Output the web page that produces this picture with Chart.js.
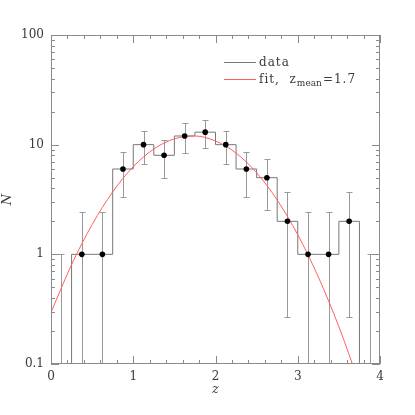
<!DOCTYPE html>
<html>
<head>
<meta charset="utf-8">
<script src="https://cdn.jsdelivr.net/npm/chart.js@4.4.0/dist/chart.umd.min.js"></script>
<style>
  body { margin: 0; background: #fff; }
  #wrap { width: 415px; height: 415px; }
</style>
</head>
<body>
<div id="wrap"><canvas id="nzChart" width="415" height="415"></canvas></div>
<script>
// redshift histogram, bins of 0.25
const binEdges = [0, 0.25, 0.5, 0.75, 1.0, 1.25, 1.5, 1.75, 2.0, 2.25, 2.5, 2.75, 3.0, 3.25, 3.5, 3.75, 4.0];
const binCenters = [0.125, 0.375, 0.625, 0.875, 1.125, 1.375, 1.625, 1.875, 2.125, 2.375, 2.625, 2.875, 3.125, 3.375, 3.625, 3.875];
const counts = [0, 1, 1, 6, 10, 8, 12, 13, 10, 6, 5, 2, 1, 1, 2, 0];
// error bar ends (0 = runs below the axis)
const errHi = [1, 2.41, 2.41, 8.65, 13.3, 11.0, 15.6, 16.7, 13.3, 8.65, 7.45, 3.73, 2.41, 2.41, 3.73, 1];
const errLo = [0, 0, 0, 3.35, 6.7, 5.0, 8.4, 9.3, 6.7, 3.35, 2.55, 0.27, 0, 0, 0.27, 0];

// fit curve, z_mean = 1.7
const fitZ = [0, 0.25, 0.5, 0.75, 1.0, 1.25, 1.5, 1.75, 2.0, 2.25, 2.5, 2.75, 3.0, 3.25, 3.5, 3.75];
const fitN = [0.296, 0.805, 1.87, 3.71, 6.30, 9.13, 11.3, 12.0, 10.8, 8.38, 5.54, 3.13, 1.51, 0.622, 0.219, 0.066];

// axis ticks
const xTicks = [0, 1, 2, 3, 4];
const xTickLabels = ['0', '1', '2', '3', '4'];
const yTicks = [0.1, 1, 10, 100];
const yTickLabels = ['0.1', '1', '10', '100'];

const AXIS_GREY = '#8a8a8a';
const TEXT_COL = '#3a3a3a';
const FONT = '"DejaVu Serif", serif';

// histogram outline: value of bin i held from edge i to edge i+1
const histData = binEdges.map((e, i) => {
  const c = counts[Math.min(i, counts.length - 1)];
  return { x: e, y: c > 0 ? c : 0.01 };
});
const pointData = binCenters.map((z, i) => ({ x: z, y: counts[i] > 0 ? counts[i] : null }));
const fitData = fitZ.map((z, i) => ({ x: z, y: fitN[i] }));

const errorBars = {
  id: 'errorBars',
  beforeDatasetsDraw(chart) {
    const { ctx, chartArea, scales: { x, y } } = chart;
    ctx.save();
    ctx.beginPath();
    ctx.rect(chartArea.left, chartArea.top, chartArea.width, chartArea.height);
    ctx.clip();
    ctx.strokeStyle = '#999';
    ctx.lineWidth = 1;
    binCenters.forEach((z, i) => {
      const px = Math.round(x.getPixelForValue(z)) + 0.5;
      const top = Math.round(y.getPixelForValue(errHi[i])) + 0.5;
      const bot = errLo[i] > 0 ? Math.round(y.getPixelForValue(errLo[i])) + 0.5 : chartArea.bottom;
      ctx.beginPath();
      ctx.moveTo(px, top); ctx.lineTo(px, bot);
      ctx.moveTo(px - 3, top); ctx.lineTo(px + 3, top);
      if (errLo[i] > 0) { ctx.moveTo(px - 3, bot); ctx.lineTo(px + 3, bot); }
      ctx.stroke();
    });
    ctx.restore();
  }
};

// frame, inward ticks, labels, legend
const frame = {
  id: 'frame',
  afterDraw(chart) {
    const { ctx, chartArea: a, scales: { x, y } } = chart;
    ctx.save();
    ctx.strokeStyle = AXIS_GREY;
    ctx.lineWidth = 1;
    ctx.strokeRect(a.left + 0.5, a.top + 0.5, a.width - 1, a.height - 1);

    ctx.beginPath();
    // x ticks every 0.2, major every 1
    for (let k = 0; k <= 20; k++) {
      const px = Math.round(x.getPixelForValue(k * 0.2)) + 0.5;
      const len = k % 5 === 0 ? 8 : 4;
      ctx.moveTo(px, a.bottom); ctx.lineTo(px, a.bottom - len);
      ctx.moveTo(px, a.top); ctx.lineTo(px, a.top + len);
    }
    // y log ticks
    for (let d = 0; d < 3; d++) {
      for (let m = 1; m <= 9; m++) {
        const v = m * Math.pow(10, d - 1);
        const py = Math.round(y.getPixelForValue(v)) + 0.5;
        const len = m === 1 ? 8 : 4;
        ctx.moveTo(a.left, py); ctx.lineTo(a.left + len, py);
        ctx.moveTo(a.right, py); ctx.lineTo(a.right - len, py);
      }
    }
    ctx.stroke();

    ctx.fillStyle = TEXT_COL;
    ctx.font = '12px ' + FONT;
    ctx.textAlign = 'center';
    ctx.textBaseline = 'middle';
    xTicks.forEach((v, i) => ctx.fillText(xTickLabels[i], x.getPixelForValue(v), a.bottom + 13));
    ctx.textAlign = 'right';
    yTicks.forEach((v, i) => ctx.fillText(yTickLabels[i], a.left - 7, y.getPixelForValue(v)));

    // axis titles
    ctx.font = 'italic 13px ' + FONT;
    ctx.textAlign = 'center';
    ctx.fillText('z', (a.left + a.right) / 2, a.bottom + 26);
    ctx.save();
    ctx.translate(8, (a.top + a.bottom) / 2);
    ctx.rotate(-Math.PI / 2);
    ctx.fillText('N', 0, 0);
    ctx.restore();

    // legend
    ctx.lineWidth = 1;
    ctx.strokeStyle = '#777';
    ctx.beginPath(); ctx.moveTo(224, 62.5); ctx.lineTo(256, 62.5); ctx.stroke();
    ctx.strokeStyle = 'rgb(255,95,95)';
    ctx.beginPath(); ctx.moveTo(224, 79.5); ctx.lineTo(256, 79.5); ctx.stroke();

    ctx.textAlign = 'left';
    ctx.textBaseline = 'alphabetic';
    ctx.letterSpacing = '1px';
    ctx.font = '12px ' + FONT;
    ctx.fillText('data', 259, 66);
    let tx = 259;
    ctx.fillText('fit,  z', tx, 83);
    tx += ctx.measureText('fit,  z').width;
    ctx.font = '9px ' + FONT;
    ctx.letterSpacing = '0px';
    ctx.fillText('mean', tx, 86);
    tx += ctx.measureText('mean').width + 1;
    ctx.font = '12px ' + FONT;
    ctx.letterSpacing = '1px';
    ctx.fillText('=1.7', tx, 83);
    ctx.restore();
  }
};

const ctx = document.getElementById('nzChart').getContext('2d');

const nzChart = new Chart(ctx, {
  type: 'line',
  data: {
    datasets: [{
      label: 'data',
      data: pointData,
      showLine: false,
      pointRadius: 2.8,
      pointBackgroundColor: '#000',
      pointBorderWidth: 0,
      order: 0
    }, {
      label: 'fit',
      data: fitData,
      borderColor: 'rgb(255,95,95)',
      borderWidth: 1,
      pointRadius: 0,
      cubicInterpolationMode: 'monotone',
      order: 1
    }, {
      label: 'hist',
      data: histData,
      stepped: true,
      borderColor: '#777',
      borderWidth: 1,
      pointRadius: 0,
      order: 2
    }]
  },
  options: {
    responsive: false,
    animation: false,
    layout: { padding: { left: 51, top: 35, right: 35, bottom: 51 } },
    scales: {
      x: { type: 'linear', min: 0, max: 4, display: false },
      y: { type: 'logarithmic', min: 0.1, max: 100, display: false }
    },
    plugins: {
      legend: { display: false },
      tooltip: { enabled: false }
    }
  },
  plugins: [errorBars, frame]
});
</script>
</body>
</html>
